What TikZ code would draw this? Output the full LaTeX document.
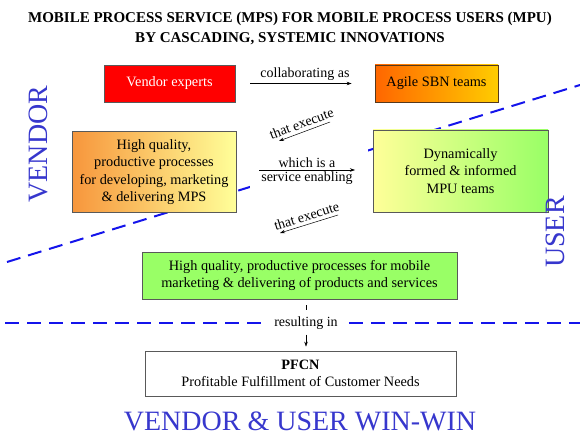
\documentclass[tikz,border=0pt]{standalone}
\usepackage{fontspec}
\setmainfont{Liberation Serif}
\usetikzlibrary{arrows.meta}
\definecolor{sideblue}{RGB}{55,55,205}
\definecolor{dashblue}{RGB}{20,20,235}
\definecolor{vendred}{RGB}{255,0,0}
\definecolor{deeporange}{RGB}{255,102,0}
\definecolor{gold}{RGB}{255,204,0}
\definecolor{softorange}{RGB}{247,150,60}
\definecolor{paleyellow}{RGB}{255,255,153}
\definecolor{lightgreen}{RGB}{153,255,102}
\begin{document}
\begin{tikzpicture}[x=1pt,y=-1pt,
  box/.style={draw=black!65, line width=0.8pt, align=center, inner sep=0pt,
    font=\fontsize{14.3}{17.5}\selectfont},
  lbl/.style={font=\fontsize{14}{15.5}\selectfont, inner sep=1pt, align=center},
  conn/.style={-{Stealth[length=5pt,width=3.5pt]}, line width=0.5pt},
  divider/.style={dashblue, line width=2pt, dash pattern=on 14pt off 8pt},
  side/.style={sideblue, font=\fontsize{28}{30}\selectfont, inner sep=0pt}]
\useasboundingbox (0,0) rectangle (580,435);

% title
\node[font=\fontsize{15}{20}\selectfont\bfseries, align=center] (title) at (290,28)
  {MOBILE PROCESS SERVICE (MPS) FOR MOBILE PROCESS USERS (MPU)\\
   BY CASCADING, SYSTEMIC INNOVATIONS};

% dashed divider between vendor and user sides
\coordinate (diagA) at (7,262);
\coordinate (diagB) at (580,85);
\draw[divider] (diagA) -- (diagB);

% white text panel in the middle row, hiding the divider
\node[fill=white, minimum width=118pt, minimum height=48pt, inner sep=0pt]
  (enabpanel) at (309,170) {};

% boxes
\node[box, fill=vendred, text=white, minimum width=131pt, minimum height=37pt]
  (vendor) at (169.5,83.5) {Vendor experts};
\node[box, draw=black!55!brown, left color=deeporange, right color=gold,
  minimum width=123pt, minimum height=37pt]
  (agile) at (436.5,83.5) {Agile SBN teams};
\node[box, left color=softorange, right color=paleyellow,
  minimum width=164pt, minimum height=81pt]
  (mps) at (154,172) {High quality,\\productive processes\\for developing, marketing\\\& delivering MPS};
\node[box, left color=paleyellow, right color=lightgreen,
  minimum width=175pt, minimum height=82pt]
  (mpu) at (460.5,171) {Dynamically\\formed \& informed\\MPU teams};
\node[box, fill=lightgreen, minimum width=315pt, minimum height=47pt]
  (proc) at (299.5,275.5) {High quality, productive processes for mobile\\marketing \& delivering of products and services};
\node[box, fill=white, minimum width=311pt, minimum height=45pt]
  (pfcn) at (300.5,373.5) {\textbf{PFCN}\\Profitable Fulfillment of Customer Needs};

% side labels
\node[side, rotate=90] (vendlbl) at (38,144) {VENDOR};
\node[side, rotate=90] (userlbl) at (555,232) {USER};
\node[side, anchor=base] (winwin) at (300,430) {VENDOR \& USER WIN-WIN};

% connectors
\draw[conn, shorten <=15pt, shorten >=23pt] (vendor) -- node[lbl, above=2pt] {collaborating as} (agile);

\coordinate (te1s) at (330,122);
\coordinate (te1e) at (279,141);
\draw[conn] (te1s) -- (te1e);
\path (te1e) -- node[lbl, sloped, above=2.5pt] (te1) {that execute} (te1s);

\coordinate (enabA) at (259,170);
\coordinate (enabB) at (355,170);
\draw[conn] (enabA) -- (enabB);
\node[lbl, anchor=south] (enab1) at (307,168.5) {which is a};
\node[lbl, anchor=north] (enab2) at (307,171) {service enabling};

\coordinate (te2s) at (338,215);
\coordinate (te2e) at (280,233);
\draw[conn] (te2s) -- (te2e);
\path (te2e) -- node[lbl, sloped, above=2.5pt] (te2) {that execute} (te2s);

% result row
\node[lbl, inner xsep=11pt, inner ysep=2pt] (res) at (306,323) {resulting in};
\coordinate (hlA) at (5,323);
\coordinate (hlB) at (580,323);
\draw[divider] (hlA) -- (res.west);
\draw[divider] (res.east) -- (hlB);
\draw[line width=0.5pt, shorten <=6pt, shorten >=4pt] (proc.south -| res.north) -- (res.north);
\draw[conn, shorten <=3pt, shorten >=4pt] (res.south) -- (pfcn.north -| res.south);
\end{tikzpicture}
\end{document}
